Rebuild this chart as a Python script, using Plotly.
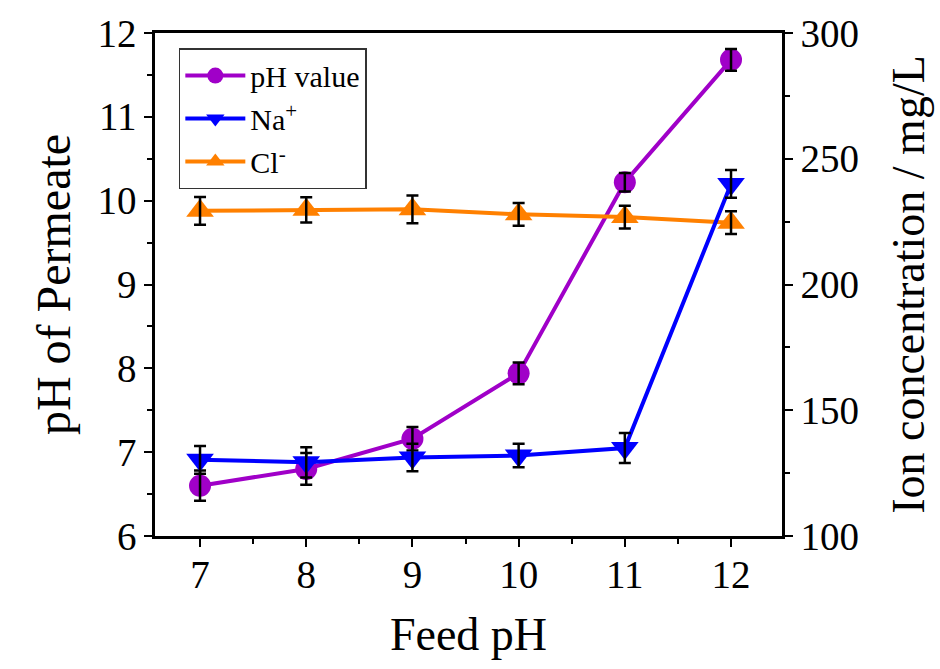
import plotly.graph_objects as go

feed_ph = [7, 8, 9, 10, 11, 12]
ph_value = [6.60, 6.80, 7.16, 7.94, 10.22, 11.68]
ph_err = [0.18, 0.19, 0.14, 0.13, 0.11, 0.13]
na_conc = [130.3, 129.3, 131.2, 132.0, 135.0, 240.0]
na_err = [5.5, 6.0, 5.5, 4.7, 6.0, 5.5]
cl_conc = [229.3, 229.7, 229.9, 227.9, 226.8, 224.6]
cl_err = [5.5, 5.0, 5.5, 4.5, 4.5, 4.5]

FONT = "Liberation Serif"
PURPLE = "#A000C8"
BLUE = "#0000FF"
ORANGE = "#FF8000"

fig = go.Figure()

fig.add_trace(go.Scatter(
    x=feed_ph, y=cl_conc, yaxis="y2", name="Cl<sup>-</sup>", mode="lines+markers",
    line=dict(color=ORANGE, width=4),
    marker=dict(symbol="triangle-up", size=24, color=ORANGE),
    legendgroup="c", legendrank=3))
fig.add_trace(go.Scatter(
    x=feed_ph, y=na_conc, yaxis="y2", name="Na<sup>+</sup>", mode="lines+markers",
    line=dict(color=BLUE, width=4),
    marker=dict(symbol="triangle-down", size=24, color=BLUE),
    legendgroup="b", legendrank=2))
fig.add_trace(go.Scatter(
    x=feed_ph, y=ph_value, yaxis="y", name="pH value", mode="lines+markers",
    line=dict(color=PURPLE, width=4),
    marker=dict(symbol="circle", size=22, color=PURPLE),
    legendgroup="a", legendrank=1))

# error bars drawn on top of markers
for yv, ev, ax in [(cl_conc, cl_err, "y2"), (na_conc, na_err, "y2"), (ph_value, ph_err, "y")]:
    fig.add_trace(go.Scatter(
        x=feed_ph, y=yv, yaxis=ax, mode="markers", showlegend=False,
        marker=dict(size=1, opacity=0),
        error_y=dict(type="data", array=ev, color="black", thickness=2.5, width=6),
        hoverinfo="skip"))

axis_common = dict(
    showline=True, linecolor="black", linewidth=2.5,
    ticks="outside", ticklen=8, tickwidth=2, tickcolor="black",
    showgrid=False, zeroline=False,
    tickfont=dict(family=FONT, size=39, color="black"),
)

fig.update_layout(
    width=940, height=669,
    margin=dict(l=155, r=158, t=29, b=133),
    paper_bgcolor="white", plot_bgcolor="white",
    font=dict(family=FONT, color="black"),
    xaxis=dict(
        range=[6.576, 12.48], tickvals=feed_ph, mirror=True, ticklabelstandoff=-6,
        minor=dict(dtick=0.5, tick0=6.5, ticks="outside", ticklen=5, tickwidth=2, tickcolor="black"),
        title=dict(text="Feed pH", font=dict(family=FONT, size=46, color="black"), standoff=24),
        **axis_common),
    yaxis=dict(
        range=[6, 12], dtick=1,
        minor=dict(dtick=0.5, ticks="outside", ticklen=5, tickwidth=2, tickcolor="black"),
        title=dict(text="pH of Permeate", font=dict(family=FONT, size=48, color="black"), standoff=12),
        **axis_common),
    yaxis2=dict(
        range=[100, 300], dtick=50, overlaying="y", side="right",
        minor=dict(dtick=25, ticks="outside", ticklen=5, tickwidth=2, tickcolor="black"),
        title=dict(text="Ion concentration / mg/L", font=dict(family=FONT, size=46, color="black"), standoff=34),
        **axis_common),
    legend=dict(
        x=0.038, y=0.97, xanchor="left", yanchor="top",
        bgcolor="white", bordercolor="#333333", borderwidth=1.5,
        font=dict(family=FONT, size=30, color="black"),
        tracegroupgap=1, itemwidth=60,
    ),
    showlegend=True,
)

fig.write_html("out.html")
